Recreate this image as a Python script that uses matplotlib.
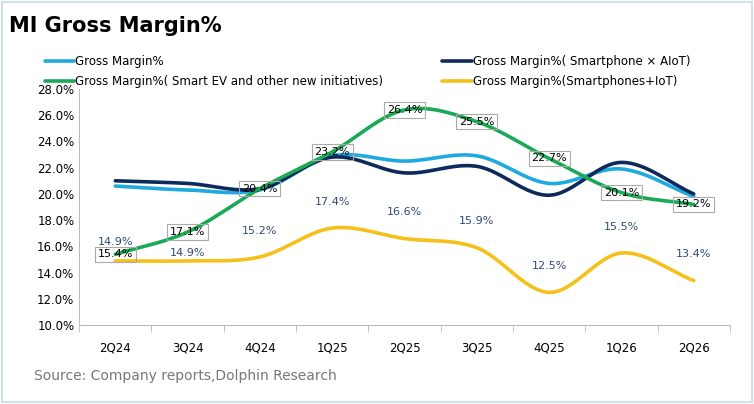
import numpy as np
import matplotlib.pyplot as plt

quarters = ["2Q24","3Q24","4Q24","1Q25","2Q25","3Q25","4Q25","1Q26","2Q26"]
gm_total = [20.6, 20.3, 20.3, 22.9, 22.5, 22.9, 20.8, 21.9, 19.8]
gm_phone_aiot = [21.0, 20.8, 20.4, 22.8, 21.6, 22.1, 19.9, 22.4, 20.0]
gm_ev = [15.4, 17.1, 20.4, 23.2, 26.4, 25.5, 22.7, 20.1, 19.2]
gm_phone_iot = [14.9, 14.9, 15.2, 17.4, 16.6, 15.9, 12.5, 15.5, 13.4]

def smooth(y, n=30):
    y = np.asarray(y, float)
    p = np.concatenate([[2*y[0]-y[1]], y, [2*y[-1]-y[-2]]])
    xs, ys = [], []
    for i in range(1, len(p)-2):
        t = np.linspace(0, 1, n, endpoint=False)
        p0, p1, p2, p3 = p[i-1], p[i], p[i+1], p[i+2]
        v = 0.5*((2*p1) + (-p0+p2)*t + (2*p0-5*p1+4*p2-p3)*t**2 + (-p0+3*p1-3*p2+p3)*t**3)
        xs.append(i-1+t); ys.append(v)
    xs.append([len(y)-1]); ys.append([y[-1]])
    return np.concatenate(xs), np.concatenate(ys)

fig = plt.figure(figsize=(7.54, 4.04), dpi=100)
ax = fig.add_axes([0.105, 0.195, 0.863, 0.585])
x = np.arange(len(quarters))
series = [(gm_total, "#1ea9e1", "Gross Margin%"),
          (gm_phone_aiot, "#0e2a5c", "Gross Margin%( Smartphone × AIoT)"),
          (gm_ev, "#1aaa55", "Gross Margin%( Smart EV and other new initiatives)"),
          (gm_phone_iot, "#f5c01a", "Gross Margin%(Smartphones+IoT)")]
handles = []
for vals, c, lab in series:
    sx, sy = smooth(vals)
    h, = ax.plot(sx, sy, color=c, lw=2.6, label=lab, solid_capstyle='round')
    handles.append(h)

for i, v in enumerate(gm_ev):
    ax.text(x[i], v, f"{v:.1f}%", ha='center', va='center', fontsize=8, color='black',
            bbox=dict(boxstyle='square,pad=0.25', fc='none', ec='#aaaaaa', lw=0.8), zorder=5)
offs = [1.45, 0.6, 2.0, 2.0, 2.0, 2.0, 2.0, 2.0, 2.0]
for i, v in enumerate(gm_phone_iot):
    ax.text(x[i], v+offs[i], f"{v:.1f}%", ha='center', va='center', fontsize=8, color='#2f4a7a')

ax.set_xlim(-0.5, 8.5)
ax.set_ylim(10, 28)
ax.set_yticks(np.arange(10, 28.1, 2))
ax.set_yticklabels([f"{t:.1f}%" for t in np.arange(10, 28.1, 2)], fontsize=8.5)
ax.set_xticks(x)
ax.set_xticklabels(quarters, fontsize=8.5)
ax.tick_params(axis='x', length=0, pad=12)
ax.tick_params(axis='y', length=0)
for s in ['top', 'right']:
    ax.spines[s].set_visible(False)
ax.spines['left'].set_color('#bbbbbb')
ax.spines['bottom'].set_color('#bbbbbb')
ax.set_xticks(np.arange(-0.5, 9, 1), minor=True)
ax.tick_params(axis='x', which='minor', length=5, color='#bbbbbb', direction='out')

fig.legend(handles=[handles[0], handles[2], handles[1], handles[3]], ncol=2,
           loc='upper left', bbox_to_anchor=(0.045, 0.89), frameon=False,
           fontsize=8.5, handlelength=2.5, handletextpad=0.1, columnspacing=5.0,
           labelspacing=0.6)
fig.text(0.012, 0.935, "MI Gross Margin%", fontsize=15, fontweight='bold', va='center')
fig.text(0.045, 0.07, "Source: Company reports,Dolphin Research", fontsize=10, color='#777777', va='center')
fig.patches.append(plt.Rectangle((0.002, 0.004), 0.996, 0.992, transform=fig.transFigure,
                                 fill=False, ec='#cfe0e8', lw=1.5))
fig.savefig("out.png", dpi=100)
